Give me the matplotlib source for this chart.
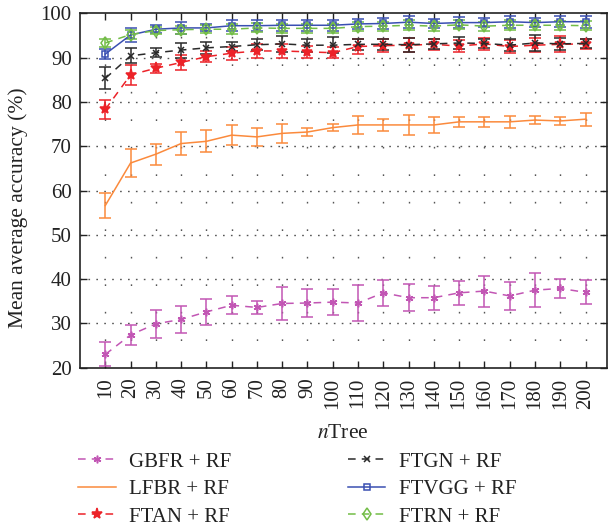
import numpy as np
import matplotlib
matplotlib.use("Agg")
import matplotlib.pyplot as plt

plt.rcParams['font.family'] = ['Liberation Serif', 'DejaVu Serif']
plt.rcParams['mathtext.fontset'] = 'stix'

ntree = list(range(10, 201, 10))

gbfr = [23.0, 27.4, 29.9, 30.9, 32.6, 34.1, 33.6, 34.5, 34.6, 34.8,
        34.6, 36.9, 35.8, 35.8, 36.9, 37.3, 36.2, 37.5, 37.9, 37.0]
gbfr_err = [2.7, 2.2, 3.2, 3.1, 3.0, 2.0, 1.5, 3.7, 3.2, 3.0,
            4.0, 2.9, 3.0, 2.7, 2.7, 3.5, 3.2, 3.9, 2.2, 2.7]

lfbr = [56.6, 66.2, 68.2, 70.6, 71.1, 72.5, 72.1, 72.9, 73.2, 74.2,
        74.8, 74.8, 74.8, 74.8, 75.5, 75.5, 75.5, 75.9, 75.7, 76.1]
lfbr_err = [2.9, 3.2, 2.4, 2.5, 2.5, 2.2, 2.1, 2.1, 1.0, 0.8,
            2.1, 1.3, 2.3, 1.8, 1.2, 1.1, 1.3, 1.0, 0.9, 1.5]

ftan = [78.3, 86.1, 87.6, 88.9, 90.2, 91.0, 91.5, 91.5, 91.3, 91.1,
        92.5, 92.7, 92.8, 93.0, 92.6, 93.1, 92.5, 92.8, 93.0, 93.1]
ftan_err = [2.2, 2.2, 1.0, 1.7, 1.2, 1.5, 1.6, 1.5, 1.3, 1.3,
            1.8, 1.5, 1.6, 1.2, 1.4, 1.3, 1.5, 1.6, 1.8, 1.2]

ftgn = [85.3, 90.4, 91.1, 91.7, 92.2, 92.5, 92.9, 93.1, 92.8, 92.8,
        93.0, 93.0, 92.9, 93.1, 93.3, 93.2, 92.8, 93.3, 93.1, 93.2]
ftgn_err = [2.5, 1.7, 1.0, 1.7, 1.4, 1.1, 1.2, 1.8, 1.5, 1.8,
            1.3, 1.3, 1.6, 1.2, 1.4, 1.0, 1.3, 1.7, 1.4, 1.0]

ftvgg = [90.8, 95.1, 96.4, 96.7, 96.7, 97.2, 97.2, 97.3, 97.3, 97.3,
         97.6, 97.7, 98.0, 97.7, 97.9, 97.9, 98.1, 97.9, 98.1, 98.1]
ftvgg_err = [1.1, 1.6, 0.9, 1.3, 0.8, 1.2, 1.2, 1.2, 1.2, 1.2,
             1.2, 1.2, 1.3, 1.1, 1.3, 1.0, 1.4, 1.1, 1.2, 1.4]

ftrn = [93.3, 95.2, 96.1, 96.3, 96.4, 96.4, 96.7, 96.6, 96.6, 96.6,
        97.0, 97.1, 97.3, 97.1, 97.4, 97.1, 97.3, 97.3, 97.3, 97.2]
ftrn_err = [1.0, 1.0, 0.8, 0.9, 0.9, 1.1, 1.0, 1.0, 1.0, 1.0,
            1.1, 1.0, 1.1, 1.0, 1.0, 1.0, 1.1, 1.0, 1.0, 1.0]

labels = ["GBFR + RF", "LFBR + RF", "FTAN + RF",
          "FTGN + RF", "FTVGG + RF", "FTRN + RF"]

fig = plt.figure(figsize=(6.08, 5.28), dpi=100)
ax = fig.add_axes([80/608, 1 - 367.7/528, 527/608, 354.4/528])

series = [
    (gbfr, gbfr_err, '#c256b4', (6, 2, 0), 5.5, 'full', (5, 4)),
    (lfbr, lfbr_err, '#fb8a3c', None, 0, 'full', None),
    (ftan, ftan_err, '#ec2228', '*', 8, 'full', (5, 4)),
    (ftgn, ftgn_err, '#2a2a2a', 'x', 4.5, 'full', (5, 4)),
    (ftvgg, ftvgg_err, '#3a4fb2', 's', 4.5, 'none', None),
    (ftrn, ftrn_err, '#73bd47', 'd', 6, 'none', (5, 4)),
]

handles = []
for (vals, errs, col, mk, ms, fill, dash), lab in zip(series, labels):
    eb = ax.errorbar(ntree, vals, yerr=errs, color=col, ecolor=col,
                     marker=mk, markersize=ms,
                     markerfacecolor=(col if fill == 'full' else 'none'),
                     markeredgecolor=col, markeredgewidth=1.1,
                     linewidth=1.1, elinewidth=1.1, capsize=4.5, capthick=1.1,
                     label=lab)
    if dash is not None:
        eb[0].set_dashes(dash)
    handles.append(eb[0])

ax.set_xlim(0, 208.5)
ax.set_ylim(20, 100)
ax.set_xticks(ntree)
ax.set_xticklabels([str(n) for n in ntree], rotation=90)
ax.set_yticks(range(20, 101, 10))

# dotted grid
for x in ntree:
    ax.plot([x, x], [20, 100], color='#555555', linewidth=1.0,
            linestyle=(0, (1.2, 18.6)), zorder=0)
for y in range(30, 100, 10):
    ax.plot([0, 208.5], [y, y], color='#555555', linewidth=1.0,
            linestyle=(0, (1.2, 4.5)), zorder=0)

ax.tick_params(direction='in', top=True, right=True, length=5, width=1,
               labelsize=15, colors='#222222')
ax.tick_params(axis='y', pad=6)
ax.tick_params(axis='x', pad=7)
for s in ax.spines.values():
    s.set_linewidth(1.2)
    s.set_color('#222222')

fig.text(18/608, 1 - 208/528, "Mean average accuracy (%)", rotation=90,
         ha='center', va='center', fontsize=15.5, color='#222222')
fig.text(343/608, 1 - 434/528, r"$\mathit{n}$Tree", ha='center', va='center',
         fontsize=15.5, color='#222222')

leg = fig.legend(handles, labels, ncol=2, loc='upper left',
                 bbox_to_anchor=(78/608, 1 - 452/528), frameon=False,
                 fontsize=15, handlelength=1.8, handletextpad=0.65,
                 columnspacing=5.6, labelspacing=0.38, borderpad=0,
                 borderaxespad=0)
for t in leg.get_texts():
    t.set_color('#222222')

fig.savefig("out.png", dpi=100)
